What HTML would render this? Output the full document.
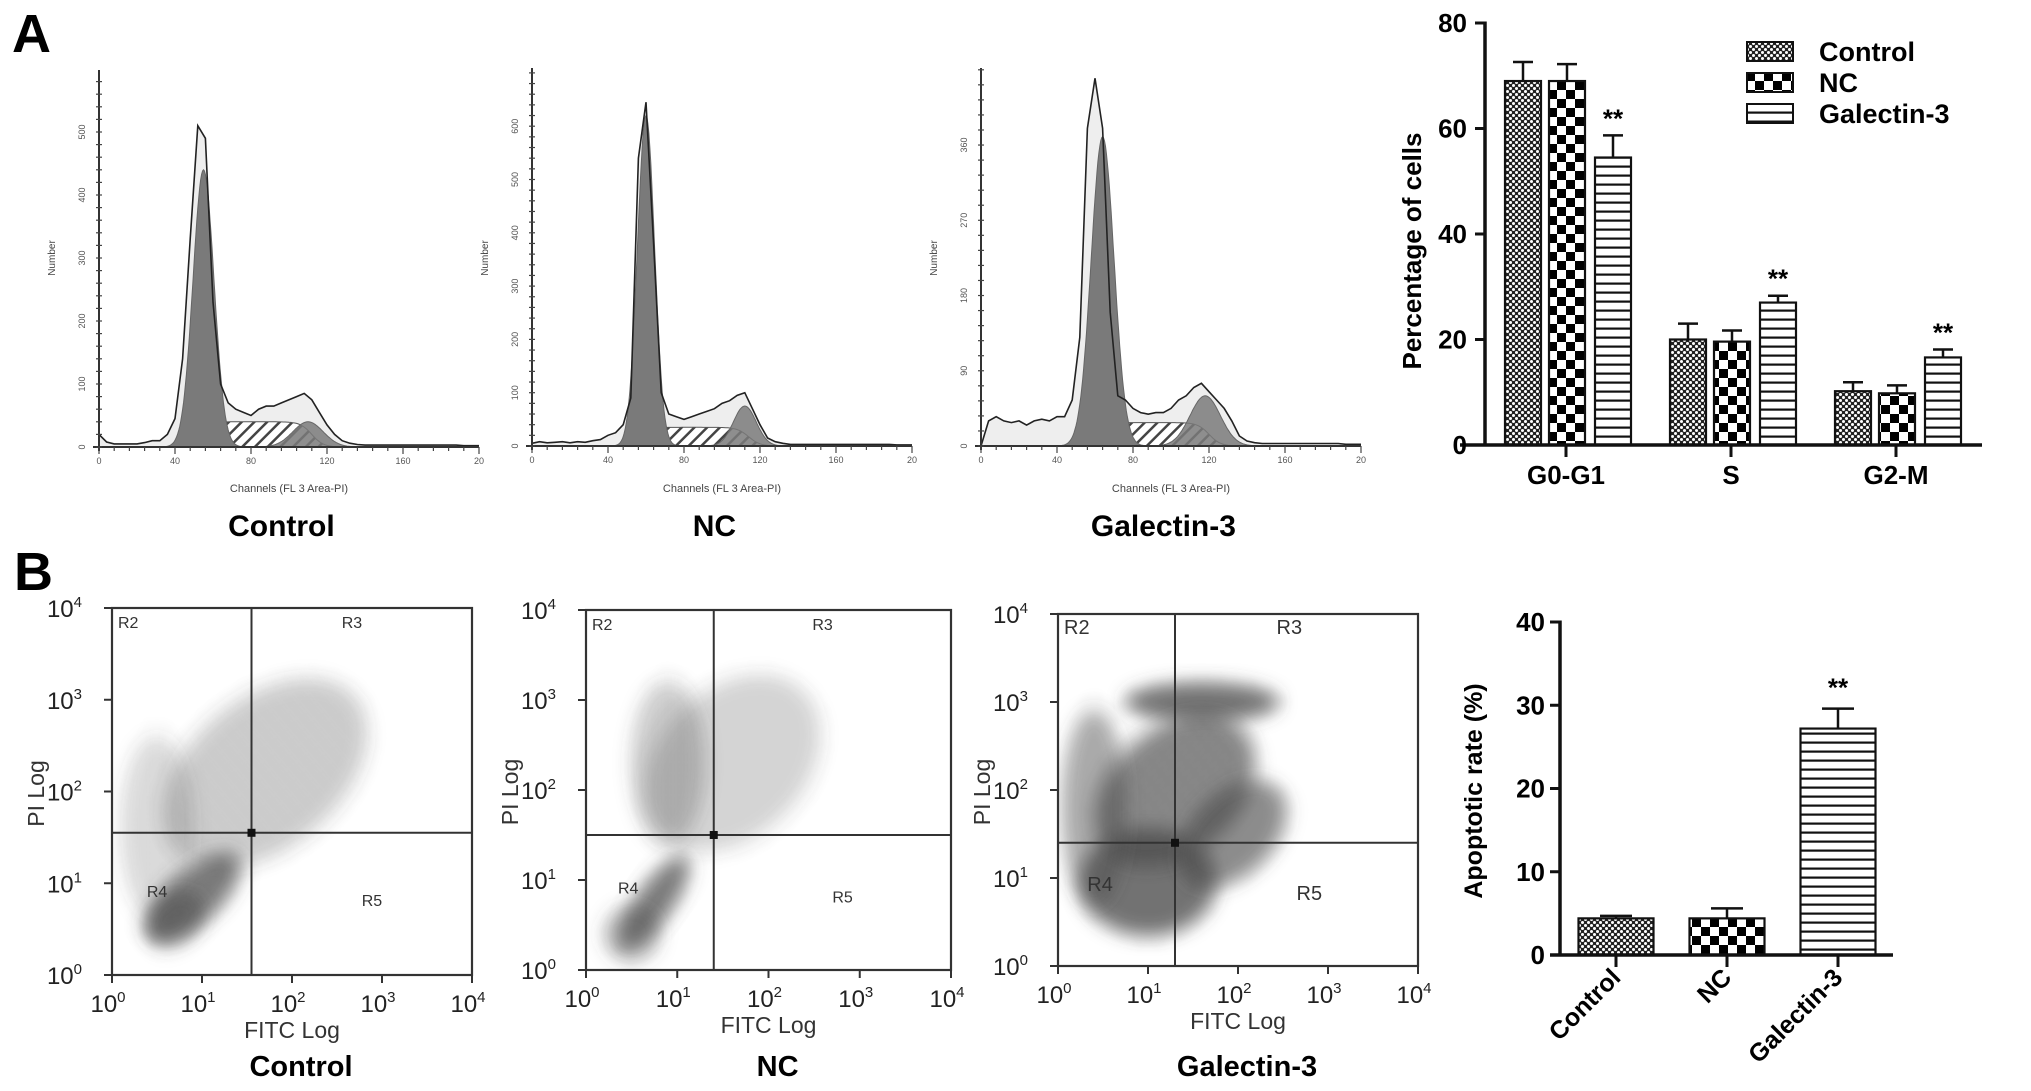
<!DOCTYPE html>
<html><head><meta charset="utf-8"><style>
html,body{margin:0;padding:0;background:#fff;}
svg{display:block;font-family:"Liberation Sans",Arial,sans-serif;}
</style></head><body>
<svg id="fig" width="2031" height="1091" viewBox="0 0 2031 1091" xmlns="http://www.w3.org/2000/svg">
<defs>
<pattern id="patCtrl" width="6" height="6" patternUnits="userSpaceOnUse"><rect width="6" height="6" fill="#222"/><circle cx="1.5" cy="1.5" r="1.5" fill="#fff"/><circle cx="4.5" cy="4.5" r="1.5" fill="#fff"/></pattern>
<pattern id="patNC" width="18" height="18" patternUnits="userSpaceOnUse"><rect width="18" height="18" fill="#fff"/><rect width="9" height="9" fill="#000"/><rect x="9" y="9" width="9" height="9" fill="#000"/></pattern>
<pattern id="patGal" width="9" height="9" patternUnits="userSpaceOnUse"><rect width="9" height="9" fill="#fff"/><rect y="3.5" width="9" height="2.2" fill="#111"/></pattern>
<pattern id="hatch" width="9" height="9" patternUnits="userSpaceOnUse" patternTransform="rotate(45)"><rect width="9" height="9" fill="#fff"/><rect width="2.5" height="9" fill="#444"/></pattern>
<pattern id="dots" width="13" height="11" patternUnits="userSpaceOnUse"><circle cx="2" cy="2" r="0.9" fill="#333"/><circle cx="8" cy="4" r="0.9" fill="#333"/><circle cx="4.5" cy="8" r="0.9" fill="#333"/><circle cx="11" cy="9" r="0.9" fill="#333"/></pattern>
<filter id="blur" x="-50%" y="-50%" width="200%" height="200%"><feGaussianBlur stdDeviation="9"/></filter>
</defs>
<text x="12" y="52" font-size="54" font-weight="bold">A</text>
<text x="14" y="590" font-size="54" font-weight="bold">B</text>
<g id="hists"></g>
<g id="scatters"></g>
<g id="barTop"></g>
<g id="barBot"></g>
</svg>
<script>
// ---------- data ----------
const histChannelsStep = 4;
const histCountsControl = [20,8,5,5,5,5,7,10,10,20,45,140,330,510,490,230,100,70,60,55,50,60,65,65,70,75,80,85,75,55,35,20,10,6,4,3,3,3,3,3,3,3,3,3,3,3,3,3,2,2,2];
const histCountsNC = [5,8,6,7,8,6,8,7,10,12,20,25,40,90,540,645,380,100,60,55,50,55,60,65,70,80,85,95,100,70,40,15,8,5,3,3,3,3,3,3,3,3,3,3,3,3,3,3,2,2,2];
const histCountsGal = [0,30,35,30,28,30,25,30,32,30,35,35,55,130,380,440,380,160,60,55,45,40,38,40,40,45,55,60,70,75,65,55,45,30,12,6,4,3,3,3,3,3,3,3,3,3,3,3,2,2,2];
// model fits: [mean, sd, height]
const g1Fit = [[55,5.5,440],[60,4.5,620],[64,6,370]];
const g2Fit = [[110,8,40],[112,6,75],[118,8,60]];
const sLevel = [40,35,28];
const phaseCategories = ["G0-G1","S","G2-M"];
const seriesNames = ["Control","NC","Galectin-3"];
const cycleControl = [69,20,10.2];
const cycleNC = [69,19.6,9.8];
const cycleGal = [54.5,27,16.6];
const cycleErrControl = [3.6,3,1.7];
const cycleErrNC = [3.2,2.1,1.5];
const cycleErrGal = [4.2,1.3,1.5];
const cycleSig = ["","",""," "," "," ","**","**","**"];
const cycleTicks = [0,20,40,60,80];
const apoCategories = ["Control","NC","Galectin-3"];
const apoValues = [4.4,4.4,27.2];
const apoErr = [0.3,1.2,2.4];
const apoSig = ["","","**"];
const apoTicks = [0,10,20,30,40];
// scatter density clusters: [xDecade, yDecade, rxDecade, ryDecade, rotationDeg, density]
const cloudControl = [[1.7,2.2,1.3,0.8,-40,0.35],[0.5,1.6,0.4,1.0,0,0.25],[0.9,0.85,0.65,0.28,-42,0.95],[0.7,0.6,0.35,0.25,-40,0.6]];
const cloudNC = [[1.6,2.3,1.1,0.8,-45,0.3],[0.9,2.3,0.4,0.9,0,0.35],[0.75,0.75,0.6,0.2,-55,0.95],[0.5,0.4,0.3,0.3,0,0.5]];
const cloudGal = [[1.6,3.0,0.85,0.22,0,1.0],[1.0,0.95,0.75,0.6,0,1.0],[1.3,2.0,1.0,0.7,-40,0.85],[1.95,1.5,0.7,0.45,-45,0.8],[0.4,1.8,0.35,1.1,0,0.6]];
const quadX = [1.55,1.4,1.3];
const quadY = [1.55,1.5,1.4];

const NS="http://www.w3.org/2000/svg";
function el(tag,attrs,parent){const e=document.createElementNS(NS,tag);for(const k in attrs)e.setAttribute(k,attrs[k]);if(parent)parent.appendChild(e);return e;}
function txt(s,attrs,parent){const e=el('text',attrs,parent);e.textContent=s;return e;}

const hg=document.getElementById('hists');
const histPanels=[
 {x0:99,top:70,base:447,k:0.63,counts:histCountsControl,maxL:500,step:100,minor:20,title:"Control"},
 {x0:532,top:68,base:446,k:0.533,counts:histCountsNC,maxL:600,step:100,minor:20,title:"NC"},
 {x0:981,top:68,base:446,k:0.836,counts:histCountsGal,maxL:360,step:90,minor:18,title:"Galectin-3"}];
histPanels.forEach((p,pi)=>{
 const g=el('g',{},hg);
 
 
 const X=c=>p.x0+c*1.9, Y=v=>p.base-v*p.k;
 const gauss=(f,c)=>f[2]*Math.exp(-0.5*((c-f[0])/f[1])**2);
 let d='M'+X(0)+','+Y(0);
 p.counts.forEach((v,i)=>{d+=' L'+X(i*histChannelsStep).toFixed(1)+','+Y(v).toFixed(1);});
 el('path',{d:d+' L'+X(200)+','+Y(0)+' Z',fill:'#eeeeee',stroke:'none'},g);
 const f1=g1Fit[pi],f2=g2Fit[pi],s=sLevel[pi];
 let sd='M'+X(f1[0]-10)+','+Y(0);
 for(let c=f1[0]-10;c<=f2[0]+15;c+=1){
  const rise=1/(1+Math.exp(-(c-f1[0]+2)/2.5)), fall=1/(1+Math.exp((c-f2[0]-2)/3));
  sd+=' L'+X(c).toFixed(1)+','+Y(s*rise*fall).toFixed(1);}
 const sp=el('path',{d:sd+' L'+X(f2[0]+15)+','+Y(0)+' Z',fill:'url(#hatch)',stroke:'#555','stroke-width':1},g);
 
 
 [f1,f2].forEach((f,fi)=>{
  let gd='M'+X(f[0]-4*f[1])+','+Y(0);
  for(let c=f[0]-4*f[1];c<=f[0]+4*f[1];c+=0.5) gd+=' L'+X(c).toFixed(1)+','+Y(gauss(f,c)).toFixed(1);
  const gp=el('path',{d:gd+' Z',fill:'#7a7a7a','fill-opacity':fi?0.85:1,stroke:'#666','stroke-width':1},g);
  
  
 });
 let od='';
 p.counts.forEach((v,i)=>{od+=(i?' L':'M')+X(i*histChannelsStep).toFixed(1)+','+Y(v).toFixed(1);});
 const op=el('path',{d:od,fill:'none',stroke:'#222','stroke-width':1.6},g);
 
 
 el('line',{x1:p.x0,y1:p.top,x2:p.x0,y2:p.base+4,stroke:'#333','stroke-width':2},g);
 el('line',{x1:p.x0-6,y1:p.base,x2:X(200),y2:p.base,stroke:'#333','stroke-width':2},g);
 for(let v=0;p.base-v*p.k>=p.top;v+=p.minor) el('line',{x1:p.x0-3,y1:Y(v),x2:p.x0+3,y2:Y(v),stroke:'#444','stroke-width':1.2},g);
 for(let v=0;v<=p.maxL;v+=p.step){txt(String(v),{x:p.x0-14,y:Y(v),'font-size':9,fill:'#555','text-anchor':'middle',transform:`rotate(-90 ${p.x0-14} ${Y(v)})`},g);}
 for(let c=0;c<=200;c+=8) el('line',{x1:X(c),y1:p.base,x2:X(c),y2:p.base+(c%40?4:7),stroke:'#444','stroke-width':1.2},g);
 for(let c=0;c<=200;c+=40) txt(c===200?'20':String(c),{x:X(c),y:p.base+17,'font-size':9,fill:'#555','text-anchor':'middle'},g);
 const nl=txt('Number',{x:p.x0-44,y:258,'font-size':10,fill:'#444','text-anchor':'middle',transform:`rotate(-90 ${p.x0-44} 258)`},g);
 
 
 const cl=txt('Channels (FL 3 Area-PI)',{x:X(100),y:492,'font-size':11,fill:'#444','text-anchor':'middle'},g);
 
 
 const tl=txt(p.title,{x:X(96),y:536,'font-size':30,'font-weight':'bold','text-anchor':'middle'},g);
 
 
});

const sg=document.getElementById('scatters');
const scPanels=[
 {l:112,r:472,t:608,b:975,clouds:cloudControl,title:"Control",big:false},
 {l:586,r:951,t:610,b:970,clouds:cloudNC,title:"NC",big:false},
 {l:1058,r:1418,t:614,b:966,clouds:cloudGal,title:"Galectin-3",big:true}];
scPanels.forEach((p,pi)=>{
 const g=el('g',{},sg);
 
 
 const dx=(p.r-p.l)/4, dy=(p.b-p.t)/4;
 const X=v=>p.l+v*dx, Y=v=>p.b-v*dy;
 const clip=el('clipPath',{id:'clip'+pi},g);
 el('rect',{x:p.l,y:p.t,width:p.r-p.l,height:p.b-p.t},clip);
 const cg=el('g',{'clip-path':`url(#clip${pi})`},g);
 p.clouds.forEach(c=>{
  const cx=X(c[0]),cy=Y(c[1]),rx=c[2]*dx,ry=c[3]*dy;
  const tr=`rotate(${c[4]} ${cx} ${cy})`;
  const e1=el('ellipse',{cx:cx,cy:cy,rx:rx,ry:ry,transform:tr,fill:'#4a4a4a','fill-opacity':c[5]*0.75,filter:'url(#blur)'},cg);
  
  
  el('ellipse',{cx:cx,cy:cy,rx:rx*1.1,ry:ry*1.2,transform:tr,fill:'url(#dots)','fill-opacity':Math.min(1,c[5]*0.6),filter:'url(#blurSmall)'},cg);
 });
 el('rect',{x:p.l,y:p.t,width:p.r-p.l,height:p.b-p.t,fill:'none',stroke:'#333','stroke-width':2.2},g);
 const qx=X(quadX[pi]),qy=Y(quadY[pi]);
 const vq=el('line',{x1:qx,y1:p.t,x2:qx,y2:p.b,stroke:'#333','stroke-width':2},g);
 
 
 const hq=el('line',{x1:p.l,y1:qy,x2:p.r,y2:qy,stroke:'#333','stroke-width':2},g);
 
 
 el('rect',{x:qx-4,y:qy-4,width:8,height:8,fill:'#111'},g);
 const fs=p.big?20:16;
 [['R2',p.l+6,p.t+20],['R3',(qx+p.r)/2-20,p.t+20],['R4',p.l+(qx-p.l)*0.25,Y(0.85)],['R5',(qx+p.r)/2,Y(0.75)]].forEach(q=>{
  const t=txt(q[0],{x:q[1],y:q[2],'font-size':fs,fill:'#333'},g);
  
  
 });
 for(let i=0;i<=4;i++){
  el('line',{x1:X(i),y1:p.b,x2:X(i),y2:p.b+8,stroke:'#333','stroke-width':2},g);
  el('line',{x1:p.l-8,y1:Y(i),x2:p.l,y2:Y(i),stroke:'#333','stroke-width':2},g);
  const xt=txt('10',{x:X(i)-4,y:p.b+37,'font-size':24,fill:'#222','text-anchor':'middle'},g);
  const sup=el('tspan',{dy:-10,'font-size':15},xt);sup.textContent=String(i);
  const yt=txt('10',{x:p.l-30,y:Y(i)+9,'font-size':24,fill:'#222','text-anchor':'end'},g);
  const sup2=el('tspan',{dy:-10,'font-size':15},yt);sup2.textContent=String(i);
 }
 const xl=txt('FITC Log',{x:X(2),y:p.b+63,'font-size':23,fill:'#333','text-anchor':'middle'},g);
 
 
 const yl=txt('PI Log',{x:p.l-68,y:Y(2)+2,'font-size':23,fill:'#333','text-anchor':'middle',transform:`rotate(-90 ${p.l-68} ${Y(2)+2})`},g);
 
 
 const tt=txt(p.title,{x:X(2.1),y:1076,'font-size':29,'font-weight':'bold','text-anchor':'middle'},g);
 
 
});
(function(){const f=el('filter',{id:'blurSmall',x:'-20%',y:'-20%',width:'140%',height:'140%'},document.querySelector('defs'));el('feGaussianBlur',{stdDeviation:4},f);})();

(function(){
 const g=document.getElementById('barTop');
 
 
 const x0=1485,x1=1982,base=445,k=5.275;
 const Y=v=>base-v*k;
 const gx=i=>1566+i*165;
 const offs=[-43,1,47], bw=36;
 const pats=['url(#patCtrl)','url(#patNC)','url(#patGal)'];
 const vals=[cycleControl,cycleNC,cycleGal], errs=[cycleErrControl,cycleErrNC,cycleErrGal];
 phaseCategories.forEach((cat,ci)=>{
  vals.forEach((arr,si)=>{
   const cx=gx(ci)+offs[si], v=arr[ci], e=errs[si][ci];
   const eb=el('line',{x1:cx,y1:Y(v),x2:cx,y2:Y(v+e),stroke:'#111','stroke-width':2.5},g);
   
   
   el('line',{x1:cx-10,y1:Y(v+e),x2:cx+10,y2:Y(v+e),stroke:'#111','stroke-width':2.5},g);
   const r=el('rect',{x:cx-bw/2,y:Y(v),width:bw,height:v*k,fill:pats[si],stroke:'#111','stroke-width':2.2},g);
   
   
   const sig=cycleSig[si*3+ci];
   if(sig.trim()){const st=txt(sig,{x:cx,y:Y(v+e)-8,'font-size':26,'font-weight':'bold','text-anchor':'middle'},g);
    
    }
  });
  el('line',{x1:gx(ci),y1:base,x2:gx(ci),y2:base+12,stroke:'#111','stroke-width':3},g);
  const cl=txt(cat,{x:gx(ci),y:484,'font-size':26,'font-weight':'bold','text-anchor':'middle'},g);
  
  
 });
 el('line',{x1:x0,y1:Y(80)-1.5,x2:x0,y2:base,stroke:'#111','stroke-width':3.5},g);
 el('line',{x1:x0-25,y1:base,x2:x1,y2:base,stroke:'#111','stroke-width':3.5},g);
 cycleTicks.forEach(t=>{
  el('line',{x1:x0-10,y1:Y(t),x2:x0,y2:Y(t),stroke:'#111','stroke-width':3},g);
  const tl=txt(String(t),{x:x0-18,y:Y(t)+9,'font-size':26,'font-weight':'bold','text-anchor':'end'},g);
  
  
 });
 const yl=txt('Percentage of cells',{x:1421,y:251,'font-size':26,'font-weight':'bold','text-anchor':'middle',transform:'rotate(-90 1421 251)'},g);
 
 
 seriesNames.forEach((n,i)=>{
  const ly=42+i*31;
  const sw=el('rect',{x:1747,y:ly,width:46,height:19,fill:pats[i],stroke:'#111','stroke-width':2},g);
  
  
  const lt=txt(n,{x:1819,y:ly+19,'font-size':27,'font-weight':'bold'},g);
  
  
 });
})();

(function(){
 const g=document.getElementById('barBot');
 
 
 const x0=1560,x1=1893,base=955,k=8.325;
 const Y=v=>base-v*k;
 const bx=i=>1616+i*111, bw=75;
 const pats=['url(#patCtrl)','url(#patNC)','url(#patGal)'];
 apoCategories.forEach((cat,i)=>{
  const cx=bx(i),v=apoValues[i],e=apoErr[i];
  const eb=el('line',{x1:cx,y1:Y(v),x2:cx,y2:Y(v+e),stroke:'#111','stroke-width':2.5},g);
  
  
  el('line',{x1:cx-16,y1:Y(v+e),x2:cx+16,y2:Y(v+e),stroke:'#111','stroke-width':2.5},g);
  const r=el('rect',{x:cx-bw/2,y:Y(v),width:bw,height:v*k,fill:pats[i],stroke:'#111','stroke-width':2.2},g);
  
  
  if(apoSig[i]){const st=txt(apoSig[i],{x:cx,y:Y(v+e)-12,'font-size':26,'font-weight':'bold','text-anchor':'middle'},g);
   
   }
  el('line',{x1:cx,y1:base,x2:cx,y2:base+12,stroke:'#111','stroke-width':3},g);
  const tl=txt(cat,{x:cx+6,y:base+24,'font-size':25,'font-weight':'bold','text-anchor':'end',transform:`rotate(-45 ${cx+6} ${base+24})`},g);
  
  
 });
 el('line',{x1:x0,y1:Y(40)-1.5,x2:x0,y2:base,stroke:'#111','stroke-width':3.5},g);
 el('line',{x1:x0-10,y1:base,x2:x1,y2:base,stroke:'#111','stroke-width':3.5},g);
 apoTicks.forEach(t=>{
  el('line',{x1:x0-10,y1:Y(t),x2:x0,y2:Y(t),stroke:'#111','stroke-width':3},g);
  const tl=txt(String(t),{x:x0-15,y:Y(t)+9,'font-size':26,'font-weight':'bold','text-anchor':'end'},g);
  
  
 });
 const yl=txt('Apoptotic rate (%)',{x:1482,y:791,'font-size':25,'font-weight':'bold','text-anchor':'middle',transform:'rotate(-90 1482 791)'},g);
 
 
})();
</script>
</body></html>
